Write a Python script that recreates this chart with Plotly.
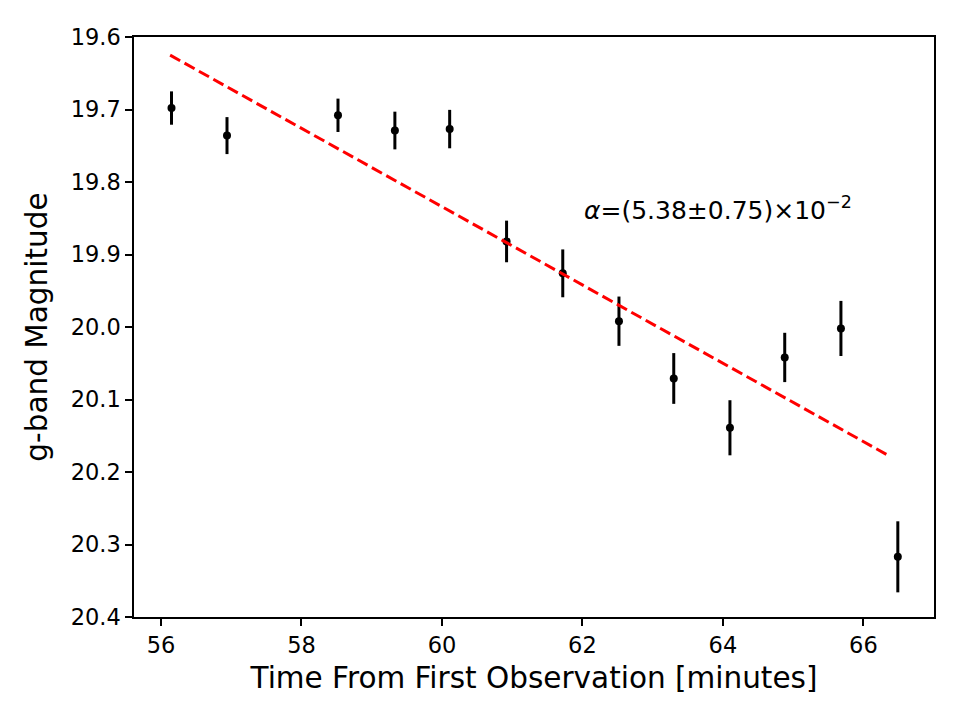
import plotly.graph_objects as go

# Data
time_min = [56.15, 56.94, 58.52, 59.33, 60.11, 60.92, 61.72, 62.52, 63.30, 64.10, 64.88, 65.68, 66.49]
g_mag = [19.698, 19.736, 19.708, 19.729, 19.727, 19.882, 19.926, 19.992, 20.071, 20.139, 20.042, 20.002, 20.317]
g_err = [0.023, 0.0255, 0.023, 0.026, 0.0265, 0.0287, 0.033, 0.034, 0.035, 0.038, 0.034, 0.038, 0.049]

fit_x = [56.13, 66.37]
fit_y = [19.625, 20.178]

x_ticks = [56, 58, 60, 62, 64, 66]
y_ticks = [19.6, 19.7, 19.8, 19.9, 20.0, 20.1, 20.2, 20.3, 20.4]
y_ticktext = ["19.6", "19.7", "19.8", "19.9", "20.0", "20.1", "20.2", "20.3", "20.4"]

annotation_text = "<i>α</i>=(5.38±0.75)×10<sup>−2</sup>"

FONT = "DejaVu Sans"

fig = go.Figure()

fig.add_trace(go.Scatter(
    x=time_min, y=g_mag,
    mode="markers",
    marker=dict(color="black", size=8),
    error_y=dict(type="data", array=g_err, visible=True, color="black",
                 thickness=3, width=0),
    showlegend=False,
))

fig.add_trace(go.Scatter(
    x=fit_x, y=fit_y,
    mode="lines",
    line=dict(color="#ff0000", width=3, dash="11.5px,5px"),
    showlegend=False,
))

fig.add_annotation(
    x=62.0, y=19.836, xref="x", yref="y",
    text=annotation_text, showarrow=False,
    xanchor="left", yanchor="middle",
    font=dict(family=FONT, size=25, color="black"),
)

fig.update_layout(
    width=953, height=713,
    margin=dict(l=126, r=27, t=29, b=104),
    paper_bgcolor="white", plot_bgcolor="white",
    font=dict(family=FONT, color="black"),
)

fig.update_xaxes(
    range=[55.616, 67.005],
    tickvals=x_ticks,
    ticks="outside", ticklen=7, tickwidth=1.5, tickcolor="black",
    showline=True, linecolor="black", linewidth=1.5, mirror=True,
    showgrid=False, zeroline=False,
    tickfont=dict(family=FONT, size=22.5, color="black"),
    title=dict(text="Time From First Observation [minutes]",
               font=dict(family=FONT, size=29.5, color="black"), standoff=11),
)

fig.update_yaxes(
    range=[20.4, 19.6],
    tickvals=y_ticks, ticktext=y_ticktext,
    ticks="outside", ticklen=7, tickwidth=1.5, tickcolor="black",
    showline=True, linecolor="black", linewidth=1.5, mirror=True,
    showgrid=False, zeroline=False,
    tickfont=dict(family=FONT, size=22.5, color="black"),
    title=dict(text="g-band Magnitude",
               font=dict(family=FONT, size=29.5, color="black"), standoff=14),
)

fig.write_html("out.html")
